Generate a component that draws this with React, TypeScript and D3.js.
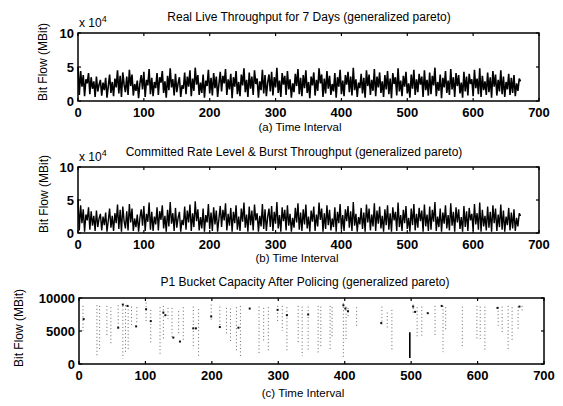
import React from "react";
import * as d3 from "d3";

// ---------- data ----------
const stepInterval = 2; // one sample every 2 time intervals, 0..672

// Panel (a): Real live throughput (units of 10^4 MBit)
const seriesA = [
  5.0, 0.9, 4.4, 2.1, 3.8, 0.7, 3.2, 2.6, 4.1, 1.0, 3.5, 1.8,
  2.9, 0.6, 3.6, 1.4, 2.4, 3.1, 0.8, 2.7, 1.6, 3.4, 0.5, 2.2,
  3.9, 1.2, 2.8, 0.7, 3.3, 2.0, 4.5, 1.1, 3.7, 0.6, 4.2, 2.4,
  1.3, 3.6, 0.9, 4.6, 2.2, 3.9, 0.8, 2.5, 1.5, 3.0, 0.4, 2.6,
  3.8, 1.7, 4.3, 0.6, 3.1, 2.3, 4.7, 1.0, 3.4, 0.7, 2.8, 1.9,
  4.1, 0.9, 3.5, 2.7, 4.4, 1.2, 2.9, 0.5, 3.7, 1.6, 4.8, 2.0,
  3.2, 0.8, 4.0, 1.3, 2.6, 3.5, 0.6, 2.3, 1.8, 4.2, 1.0, 3.6,
  2.1, 4.5, 0.7, 3.3, 1.5, 4.9, 2.4, 3.8, 0.9, 2.7, 1.2, 3.9,
  0.5, 3.0, 2.2, 4.6, 1.1, 3.4, 0.8, 4.1, 1.9, 3.6, 0.6, 2.5,
  4.3, 1.4, 3.7, 2.6, 4.7, 0.9, 3.2, 1.7, 4.0, 0.4, 3.5, 2.1,
  4.4, 1.0, 2.8, 0.7, 3.9, 2.3, 4.8, 1.3, 3.1, 0.6, 4.2, 1.8,
  3.6, 0.9, 4.5, 2.5, 3.3, 0.5, 2.9, 1.6, 4.6, 1.1, 3.8, 0.7,
  2.7, 3.9, 1.4, 4.3, 0.8, 3.5, 2.0, 4.9, 1.2, 3.0, 0.6, 4.1,
  2.4, 3.7, 0.9, 4.4, 1.7, 3.2, 0.5, 2.6, 1.3, 4.0, 2.2, 4.7,
  1.0, 3.4, 0.7, 3.8, 1.9, 4.5, 1.2, 2.8, 0.4, 3.6, 2.3, 4.2,
  0.8, 3.1, 1.5, 4.8, 2.6, 3.9, 0.6, 3.3, 1.1, 4.4, 1.8, 3.7,
  0.9, 2.5, 1.4, 4.1, 0.5, 3.5, 2.1, 4.6, 1.0, 3.0, 0.7, 3.8,
  2.4, 4.3, 1.3, 3.6, 0.8, 4.9, 1.6, 3.2, 0.6, 2.7, 1.9, 4.0,
  1.1, 3.4, 0.5, 4.5, 2.2, 3.9, 0.9, 3.1, 1.5, 4.7, 0.7, 3.6,
  2.0, 4.2, 1.2, 2.9, 0.6, 3.8, 1.7, 4.4, 1.0, 3.3, 0.4, 4.1,
  2.5, 3.5, 0.8, 4.8, 1.4, 3.0, 0.7, 3.7, 2.1, 4.3, 1.1, 2.6,
  0.5, 3.9, 1.8, 4.6, 0.9, 3.2, 1.3, 4.0, 2.4, 3.6, 0.6, 4.5,
  1.6, 3.1, 0.8, 4.2, 1.0, 3.7, 2.3, 4.9, 0.7, 2.8, 1.5, 3.9,
  0.4, 3.4, 2.0, 4.4, 1.2, 3.0, 0.9, 4.7, 1.7, 3.5, 0.6, 4.1,
  2.2, 3.8, 1.1, 2.7, 0.5, 4.3, 1.4, 3.6, 0.8, 4.0, 2.5, 3.2,
  0.7, 4.6, 1.9, 3.3, 1.0, 4.8, 0.6, 3.7, 1.6, 2.9, 0.9, 4.2,
  1.3, 3.5, 0.5, 4.4, 2.1, 3.9, 0.8, 3.1, 1.4, 4.5, 1.0, 3.6,
  0.6, 2.8, 1.7, 4.0, 0.9, 3.4, 1.2, 3.8, 0.7, 2.6, 1.5, 3.3,
  2.9,
];

// Panel (b): Committed rate level & burst throughput (units of 10^4 MBit)
const seriesB = [
  5.1, 0.4, 4.2, 1.5, 3.6, 0.2, 2.8, 1.9, 3.9, 0.5, 3.3, 1.1,
  2.6, 0.3, 3.4, 0.9, 2.2, 2.9, 0.4, 2.5, 1.2, 3.1, 0.2, 1.9,
  3.7, 0.8, 2.6, 0.3, 3.0, 1.5, 4.3, 0.6, 3.5, 0.2, 4.0, 1.8,
  0.7, 3.3, 0.4, 4.4, 1.6, 3.7, 0.3, 2.2, 0.9, 2.8, 0.2, 2.3,
  3.6, 1.1, 4.1, 0.3, 2.9, 1.7, 4.6, 0.5, 3.2, 0.3, 2.5, 1.3,
  3.9, 0.4, 3.3, 2.0, 4.2, 0.7, 2.6, 0.2, 3.5, 1.0, 4.7, 1.4,
  3.0, 0.3, 3.8, 0.8, 2.3, 3.2, 0.2, 2.0, 1.2, 4.0, 0.5, 3.4,
  1.6, 4.3, 0.3, 3.0, 0.9, 4.8, 1.8, 3.6, 0.4, 2.4, 0.7, 3.7,
  0.2, 2.7, 1.6, 4.4, 0.6, 3.1, 0.3, 3.9, 1.3, 3.4, 0.2, 2.2,
  4.1, 0.9, 3.5, 1.9, 4.5, 0.4, 2.9, 1.1, 3.8, 0.2, 3.2, 1.5,
  4.2, 0.5, 2.5, 0.3, 3.7, 1.7, 4.6, 0.8, 2.8, 0.2, 4.0, 1.2,
  3.4, 0.4, 4.3, 1.9, 3.0, 0.2, 2.6, 1.0, 4.4, 0.6, 3.6, 0.3,
  2.4, 3.7, 0.9, 4.1, 0.3, 3.2, 1.4, 4.7, 0.7, 2.7, 0.2, 3.9,
  1.8, 3.5, 0.4, 4.2, 1.1, 2.9, 0.2, 2.3, 0.8, 3.8, 1.6, 4.5,
  0.5, 3.1, 0.3, 3.6, 1.3, 4.3, 0.7, 2.5, 0.2, 3.4, 1.7, 4.0,
  0.3, 2.8, 1.0, 4.6, 2.0, 3.7, 0.2, 3.0, 0.6, 4.2, 1.2, 3.5,
  0.4, 2.2, 0.9, 3.9, 0.2, 3.2, 1.5, 4.4, 0.5, 2.7, 0.3, 3.6,
  1.8, 4.1, 0.8, 3.3, 0.3, 4.7, 1.1, 2.9, 0.2, 2.4, 1.3, 3.8,
  0.6, 3.1, 0.2, 4.3, 1.6, 3.7, 0.4, 2.8, 1.0, 4.5, 0.3, 3.4,
  1.4, 4.0, 0.7, 2.6, 0.2, 3.6, 1.2, 4.2, 0.5, 3.0, 0.2, 3.9,
  1.9, 3.2, 0.3, 4.6, 0.9, 2.7, 0.3, 3.5, 1.5, 4.1, 0.6, 2.3,
  0.2, 3.7, 1.2, 4.4, 0.4, 2.9, 0.8, 3.8, 1.8, 3.4, 0.2, 4.3,
  1.0, 2.8, 0.3, 4.0, 0.5, 3.5, 1.7, 4.7, 0.3, 2.5, 0.9, 3.7,
  0.2, 3.1, 1.4, 4.2, 0.7, 2.7, 0.4, 4.5, 1.1, 3.2, 0.2, 3.9,
  1.6, 3.6, 0.6, 2.4, 0.2, 4.1, 0.9, 3.3, 0.3, 3.8, 1.9, 2.9,
  0.3, 4.4, 1.3, 3.0, 0.5, 4.6, 0.2, 3.5, 1.0, 2.6, 0.4, 4.0,
  0.8, 3.2, 0.2, 4.2, 1.5, 3.7, 0.3, 2.8, 0.9, 4.3, 0.5, 3.4,
  0.2, 2.5, 1.2, 3.8, 0.4, 3.1, 0.7, 3.6, 0.3, 2.3, 1.0, 3.0,
  2.6,
];

// Panel (c): P1 bucket capacity – dotted vertical runs (time, top, bottom)
const colT = [6, 27, 31, 42, 48, 59, 66, 70, 74, 79, 87, 101, 108, 122, 127, 134, 140, 150, 157, 172, 180,
  199, 212, 222, 228, 237, 243, 271, 278, 285, 299, 306, 313, 330, 336, 345, 360, 364, 378, 381, 398,
  402, 405, 418, 456, 464, 471, 503, 509, 516, 536, 548, 552, 577, 599, 604, 611, 631, 637, 646, 652, 661, 667];
const colHi = [8800, 8900, 8800, 8800, 8600, 8900, 8800, 8900, 8800, 8700, 8600, 9300, 8200, 8600, 8800, 8500, 8500, 8000, 8600, 8700, 8300,
  9000, 8700, 8500, 8400, 8600, 8800, 8700, 8500, 8600, 8800, 8800, 8600, 8800, 8700, 8700, 8800, 8700, 8800, 8600, 9200,
  8700, 8500, 8600, 8700, 7800, 8200, 9000, 8600, 8700, 8800, 8800, 8600, 8700, 8800, 8700, 8700, 8600, 8700, 8800, 8600, 8700, 8800];
const colLo = [5000, 1100, 2000, 4300, 3000, 5300, 800, 1500, 2000, 5500, 6200, 6500, 3000, 1500, 3500, 6800, 4000, 4500, 3300, 2300, 1200,
  6500, 5600, 4500, 3200, 2000, 1000, 1600, 3500, 1800, 6500, 5000, 2000, 3300, 1200, 2000, 1500, 2500, 2200, 4000, 800,
  3500, 7300, 5500, 6000, 5500, 2000, 7500, 4000, 4300, 4200, 1800, 5000, 2500, 3500, 3800, 2000, 5500, 4500, 2200, 3400, 5000, 7800];
// solid dark run
const solidT = [498];
const solidHi = [4800];
const solidLo = [900];
// isolated heavy points (time, value)
const dotT = [7, 59, 66, 73, 86, 101, 108, 127, 130, 142, 152, 172, 176, 199, 212, 240, 257, 299, 313, 345, 398, 401, 405, 455, 503, 506, 525, 546, 630, 663];
const dotV = [6800, 5500, 9000, 8800, 5700, 8300, 6500, 7800, 7400, 4000, 3400, 5400, 5400, 7200, 5600, 5500, 8400, 8200, 7400, 7500, 8900, 8400, 8000, 6200, 8700, 7900, 7700, 8800, 8500, 8700];

const xTicks = [0, 100, 200, 300, 400, 500, 600, 700];
const yTicksAB = [0, 5, 10];
const yTicksC = [0, 5000, 10000];

const titles = [
  "Real Live Throughput for 7 Days (generalized pareto)",
  "Committed Rate Level & Burst Throughput (generalized pareto)",
  "P1 Bucket Capacity After Policing (generalized pareto)",
];
const xLabels = ["(a) Time Interval", "(b) Time Interval", "(c) Time Interval"];
const yLabel = "Bit Flow (MBit)";

// ---------- layout ----------
const W = 563;
const H = 406;
const FONT = "'Liberation Sans', Arial, Helvetica, sans-serif";

const layouts = [
  { left: 78, right: 539, top: 33, bottom: 101, titleX: 309, titleY: 21, xlabX: 300, xlabY: 131, ylabX: 43, ylabY: 62, lw: 1.6 },
  { left: 78, right: 539, top: 167, bottom: 233, titleX: 294, titleY: 156, xlabX: 297, xlabY: 262, ylabX: 44, ylabY: 194, lw: 1.4 },
  { left: 79, right: 544, top: 298, bottom: 364, titleX: 305, titleY: 286, xlabX: 303, xlabY: 397, ylabX: 19, ylabY: 328, lw: 1 },
];

type L = typeof layouts[number];

function Frame({ L, x, y, yTicks }: { L: L; x: any; y: any; yTicks: number[] }) {
  const tl = 3;
  return (
    <g>
      <rect x={L.left} y={L.top} width={L.right - L.left} height={L.bottom - L.top} fill="none" stroke="#000" strokeWidth={1.5} />
      {xTicks.map((t) => (
        <g key={"xt" + t}>
          <line x1={x(t)} x2={x(t)} y1={L.bottom} y2={L.bottom - tl} stroke="#000" strokeWidth={1.2} />
          <line x1={x(t)} x2={x(t)} y1={L.top} y2={L.top + tl} stroke="#000" strokeWidth={1.2} />
          <text x={x(t)} y={L.bottom + 11} textAnchor="middle" dominantBaseline="central" fontSize={13} fontWeight="bold" fontFamily={FONT}>{t}</text>
        </g>
      ))}
      {yTicks.map((t) => (
        <g key={"yt" + t}>
          <line x1={L.left} x2={L.left + tl} y1={y(t)} y2={y(t)} stroke="#000" strokeWidth={1.2} />
          <line x1={L.right} x2={L.right - tl} y1={y(t)} y2={y(t)} stroke="#000" strokeWidth={1.2} />
          <text x={L.left - 4} y={y(t)} textAnchor="end" dominantBaseline="central" fontSize={13} fontWeight="bold" fontFamily={FONT}>{t}</text>
        </g>
      ))}
    </g>
  );
}

function Labels({ L, i }: { L: L; i: number }) {
  return (
    <g fontFamily={FONT}>
      <text x={L.titleX} y={L.titleY} textAnchor="middle" fontSize={12}>{titles[i]}</text>
      <text x={L.xlabX} y={L.xlabY} textAnchor="middle" fontSize={11.5}>{xLabels[i]}</text>
      <text transform={`translate(${L.ylabX},${L.ylabY}) rotate(-90)`} textAnchor="middle" dominantBaseline="central" fontSize={12}>{yLabel}</text>
    </g>
  );
}

function SeriesPanel({ L, i, data }: { L: L; i: number; data: number[] }) {
  const x = d3.scaleLinear().domain([0, 700]).range([L.left, L.right]);
  const y = d3.scaleLinear().domain([0, 10]).range([L.bottom, L.top]);
  const line = d3.line<number>().x((_, k) => x(k * stepInterval)).y((d) => y(d));
  return (
    <g>
      <path d={line(data) || ""} fill="none" stroke="#000" strokeWidth={L.lw} strokeLinejoin="miter" strokeMiterlimit={2} />
      <Frame L={L} x={x} y={y} yTicks={yTicksAB} />
      <Labels L={L} i={i} />
      <text x={L.left + 1} y={L.top - 6} fontSize={12} fontFamily={FONT}>
        x 10<tspan fontSize={9} dy={-5}>4</tspan>
      </text>
    </g>
  );
}

function BucketPanel({ L, i }: { L: L; i: number }) {
  const x = d3.scaleLinear().domain([0, 700]).range([L.left, L.right]);
  const y = d3.scaleLinear().domain([0, 10000]).range([L.bottom, L.top]);
  return (
    <g>
      {colT.map((t, k) => (
        <line key={"c" + k} x1={x(t)} x2={x(t)} y1={y(colHi[k])} y2={y(colLo[k])} stroke="#555" strokeWidth={0.9} strokeDasharray="1 2.5" />
      ))}
      {solidT.map((t, k) => (
        <line key={"s" + k} x1={x(t)} x2={x(t)} y1={y(solidHi[k])} y2={y(solidLo[k])} stroke="#000" strokeWidth={1.6} />
      ))}
      {dotT.map((t, k) => (
        <rect key={"d" + k} x={x(t) - 1} y={y(dotV[k]) - 1} width={2} height={2} fill="#111" />
      ))}
      <Frame L={L} x={x} y={y} yTicks={yTicksC} />
      <Labels L={L} i={i} />
    </g>
  );
}

export default function App() {
  return (
    <svg width={W} height={H} style={{ position: "absolute", left: 0, top: 0, background: "#fff" }}>
      <rect width={W} height={H} fill="#fff" />
      <SeriesPanel L={layouts[0]} i={0} data={seriesA} />
      <SeriesPanel L={layouts[1]} i={1} data={seriesB} />
      <BucketPanel L={layouts[2]} i={2} />
    </svg>
  );
}
